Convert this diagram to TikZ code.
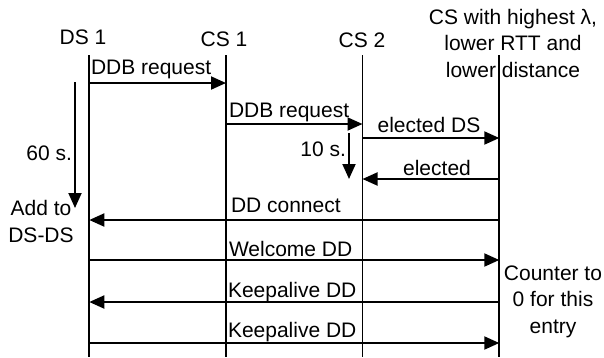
\documentclass[tikz,border=0pt]{standalone}
\usepackage{fontspec}
\setmainfont{Liberation Sans}
\usetikzlibrary{arrows.meta}

\begin{document}
\begin{tikzpicture}[x=1pt,y=-1pt,
  every node/.style={font=\fontsize{21}{26.5}\selectfont, inner sep=0pt, outer sep=0pt},
  life/.style={line width=1.9pt},
  msg/.style={line width=1.9pt, -{Triangle[length=15pt,width=13pt]}},
  lblw/.style={anchor=base west},
  lblc/.style={anchor=base},
  note/.style={anchor=base, align=center}]
\useasboundingbox (0,0) rectangle (604,357);

% lifeline heads (multi-line notes are anchored at their last baseline)
\node[lblc] (hds1) at (83,44) {DS 1};
\node[lblc] (hcs1) at (224,46) {CS 1};
\node[lblc] (hcs2) at (362,47) {CS 2};
\node[note] (hbest) at (513,77) {CS with highest λ,\\lower RTT and\\lower distance};

% lifelines
\coordinate (L1) at (89.3,55);  \coordinate (B1) at (89.3,357);
\coordinate (L2) at (226,55);   \coordinate (B2) at (226,357);
\coordinate (L3) at (362.5,55); \coordinate (B3) at (362.5,357);
\coordinate (L4) at (499.3,55); \coordinate (B4) at (499.3,357);
\draw[life] (L1) -- (B1);
\draw[life] (L2) -- (B2);
\draw[life] (L3) -- (B3);
\draw[life] (L4) -- (B4);

% messages
\draw[msg] (L1 |- 0,83)  -- (L2 |- 0,83);
\node[lblw] (m1) at (91,74) {DDB request};
\draw[msg] (L2 |- 0,124) -- (L3 |- 0,124);
\node[lblw] (m2) at (229,117) {DDB request};
\draw[msg] (L3 |- 0,138) -- (L4 |- 0,138);
\node[lblc] (m3) at (429,132) {elected DS};
\draw[msg] (L4 |- 0,179) -- (L3 |- 0,179);
\node[lblc] (m4) at (437,175) {elected};
\draw[msg] (L4 |- 0,220) -- (L1 |- 0,220);
\node[lblw] (m5) at (231,212) {DD connect};
\draw[msg] (L1 |- 0,260) -- (L4 |- 0,260);
\node[lblw] (m6) at (229,256) {Welcome DD};
\draw[msg] (L4 |- 0,302) -- (L1 |- 0,302);
\node[lblw] (m7) at (228,297) {Keepalive DD};
\draw[msg] (L1 |- 0,343) -- (L4 |- 0,343);
\node[lblw] (m8) at (228,337) {Keepalive DD};

% timers
\coordinate (t60a) at (75,82);  \coordinate (t60b) at (75,208);
\draw[msg] (t60a) -- (t60b);
\node[anchor=base east] (t60) at (72,160) {60 s.};
\coordinate (t10a) at (349,133); \coordinate (t10b) at (349,179);
\draw[msg] (t10a) -- (t10b);
\node[anchor=base east] (t10) at (346,156) {10 s.};

% side notes
\node[note] (add) at (41,242) {Add to\\DS-DS};
\node[note] (cnt) at (553,333) {Counter to\\0 for this\\entry};
\end{tikzpicture}
\end{document}
